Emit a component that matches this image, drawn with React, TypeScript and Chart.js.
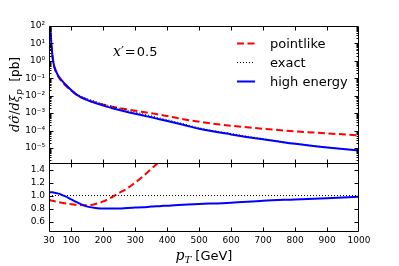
import React, { useEffect, useRef } from 'react';
import { Chart, registerables } from 'chart.js';

Chart.register(...registerables);

// transverse momentum p_T [GeV]
const PT = [30, 32, 34, 36, 38, 40, 42, 45, 50, 55, 60, 70, 80, 100, 120, 150, 175, 200, 225, 250, 275, 300, 325, 350, 375, 400, 450, 500, 600, 700, 800, 900, 1000];

// dσ/dξ_p [pb]
const HIGH_ENERGY = [1e4, 398, 100, 22.4, 7.08, 2.82, 1.32, 0.631, 0.316, 0.1905, 0.1318, 0.0759, 0.0468, 0.0209, 0.01047, 0.00562, 0.0038, 0.00269, 0.001995, 0.001514, 0.001175, 9.33e-4, 7.33e-4, 5.75e-4, 4.52e-4, 3.55e-4, 2.14e-4, 1.259e-4, 6.03e-5, 3.16e-5, 1.738e-5, 1.072e-5, 7.08e-6];
const EXACT = [9.5e3, 379, 95.2, 21.3, 6.74, 2.68, 1.26, 0.604, 0.304, 0.184, 0.128, 0.0751, 0.0472, 0.0222, 0.01177, 0.00678, 0.00469, 0.00336, 0.00249, 0.00189, 0.00145, 1.145e-3, 8.93e-4, 7.02e-4, 5.4e-4, 4.2e-4, 2.486e-4, 1.447e-4, 6.77e-5, 3.44e-5, 1.849e-5, 1.117e-5, 7.22e-6];
const POINTLIKE = [8.9e3, 352, 88.6, 19.7, 6.21, 2.47, 1.16, 0.552, 0.277, 0.1667, 0.1151, 0.0668, 0.0416, 0.0192, 0.01007, 0.00576, 0.00408, 0.00306, 0.00242, 0.00197, 0.00161, 1.374e-3, 1.161e-3, 9.89e-4, 8.2e-4, 6.84e-4, 4.48e-4, 3.18e-4, 1.897e-4, 1.271e-4, 9.06e-5, 6.92e-5, 5.35e-5];

// ratios to exact
const RATIO_POINTLIKE = [0.93, 0.93, 0.93, 0.925, 0.92, 0.92, 0.92, 0.915, 0.91, 0.905, 0.9, 0.89, 0.88, 0.865, 0.855, 0.85, 0.87, 0.91, 0.97, 1.04, 1.11, 1.2, 1.3, 1.41, 1.52, 1.63, 1.8, 2.2, 2.8, 3.7, 4.9, 6.2, 7.4];
const RATIO_HIGH_ENERGY = [1.05, 1.05, 1.05, 1.05, 1.05, 1.05, 1.05, 1.045, 1.04, 1.035, 1.03, 1.01, 0.99, 0.94, 0.89, 0.83, 0.81, 0.8, 0.8, 0.8, 0.81, 0.815, 0.82, 0.83, 0.837, 0.845, 0.86, 0.87, 0.89, 0.92, 0.94, 0.96, 0.98];
const RATIO_EXACT_PT = [30, 1000];
const RATIO_EXACT = [1, 1];

const X_TICKS = [30, 100, 200, 300, 400, 500, 600, 700, 800, 900, 1000];
const LOG_TICKS = [1e2, 1e1, 1e0, 1e-1, 1e-2, 1e-3, 1e-4, 1e-5];
const RATIO_TICKS = [0.6, 0.8, 1.0, 1.2, 1.4];
const SERIES_NAMES = ['pointlike', 'exact', 'high energy'];
const X_PRIME = '0.5';

const SUP: Record<string, string> = { '-': '\u207B', '0': '\u2070', '1': '\u00B9', '2': '\u00B2', '3': '\u00B3', '4': '\u2074', '5': '\u2075', '6': '\u2076', '7': '\u2077', '8': '\u2078', '9': '\u2079' };
const sup = (n: number) => String(n).split('').map((c) => SUP[c] || c).join('');

const SANS = '"DejaVu Sans", sans-serif';
const SERIF = '"DejaVu Serif", serif';

const framePlugin = {
  id: 'framePlugin',
  afterDraw(chart: any) {
    const ctx: CanvasRenderingContext2D = chart.ctx;
    const xs = chart.scales.x;
    const ys = chart.scales.y;
    const rs = chart.scales.y2;
    const L = Math.round(xs.left) + 0.5;
    const R = Math.round(xs.right) - 0.5;
    ctx.save();
    ctx.strokeStyle = '#000';
    ctx.lineWidth = 1;
    const boxes = [
      [Math.round(ys.top) + 0.5, Math.round(ys.bottom) + 0.5],
      [Math.round(rs.top) + 0.5, Math.round(rs.bottom) - 0.5],
    ];
    ctx.beginPath();
    for (const [t, b] of boxes) {
      ctx.rect(L, t, R - L, b - t);
      for (const v of X_TICKS) {
        if (v === 30 || v === 1000) continue;
        const px = Math.round(xs.getPixelForValue(v)) + 0.5;
        ctx.moveTo(px, t); ctx.lineTo(px, t + 4);
        ctx.moveTo(px, b); ctx.lineTo(px, b - 4);
      }
    }
    // log ticks
    for (let e = -6; e <= 2; e++) {
      for (let m = 1; m <= 9; m++) {
        const v = m * Math.pow(10, e);
        if (v < ys.min * 1.0001 || v > ys.max * 0.9999) continue;
        const py = Math.round(ys.getPixelForValue(v)) + 0.5;
        const len = m === 1 ? 4 : 2;
        ctx.moveTo(L, py); ctx.lineTo(L + len, py);
        ctx.moveTo(R, py); ctx.lineTo(R - len, py);
      }
    }
    for (const v of RATIO_TICKS) {
      const py = Math.round(rs.getPixelForValue(v)) + 0.5;
      ctx.moveTo(L, py); ctx.lineTo(L + 4, py);
      ctx.moveTo(R, py); ctx.lineTo(R - 4, py);
    }
    ctx.stroke();

    // legend
    const styles = [
      { color: '#ff0000', width: 2, dash: [7, 3.5] },
      { color: '#000000', width: 1, dash: [1, 2] },
      { color: '#0000ff', width: 2, dash: [] as number[] },
    ];
    const ly = [43.5, 62.5, 81.5];
    SERIES_NAMES.forEach((name, i) => {
      const s = styles[i];
      ctx.beginPath();
      ctx.strokeStyle = s.color;
      ctx.lineWidth = s.width;
      ctx.setLineDash(s.dash);
      ctx.moveTo(237, ly[i]);
      ctx.lineTo(255, ly[i]);
      ctx.stroke();
      ctx.setLineDash([]);
      ctx.fillStyle = '#000';
      ctx.font = `13px ${SANS}`;
      ctx.textBaseline = 'alphabetic';
      ctx.textAlign = 'left';
      ctx.fillText(name, 270, ly[i] + 4.5);
    });

    // annotation x' = 0.5
    ctx.fillStyle = '#000';
    ctx.textBaseline = 'alphabetic';
    let ax = 113;
    const ay = 56;
    ctx.font = `italic 14px ${SERIF}`;
    ctx.fillText('x', ax, ay); ax += ctx.measureText('x').width;
    ctx.font = `13px ${SERIF}`;
    ctx.fillText('\u2032', ax, ay); ax += ctx.measureText('\u2032').width + 1;
    ctx.font = `13px ${SERIF}`;
    ctx.fillText('=', ax, ay); ax += ctx.measureText('=').width + 1;
    ctx.font = `13px ${SANS}`;
    ctx.fillText(X_PRIME, ax, ay);

    const drawParts = (parts: [string, string, number][], cx: number, by: number) => {
      let w = 0;
      for (const [t, f] of parts) { ctx.font = f; w += ctx.measureText(t).width; }
      let px = cx - w / 2;
      for (const [t, f, dy] of parts) {
        ctx.font = f;
        ctx.fillText(t, px, by + dy);
        px += ctx.measureText(t).width;
      }
    };
    // x axis title
    drawParts([
      ['p', `italic 14px ${SERIF}`, 0],
      ['T', `italic 10px ${SERIF}`, 3],
      [' [GeV]', `13px ${SANS}`, 0],
    ], (xs.left + xs.right) / 2, 260);

    // y axis title (rotated)
    ctx.save();
    ctx.translate(19, (ys.top + ys.bottom) / 2);
    ctx.rotate(-Math.PI / 2);
    drawParts([
      ['d\u03C3\u0302', `italic 13px ${SERIF}`, 0],
      ['/', `13px ${SERIF}`, 0],
      ['d\u03BE', `italic 13px ${SERIF}`, 0],
      ['p', `italic 9px ${SERIF}`, 3],
      ['  [pb]', `12px ${SANS}`, 0],
    ], 0, 0);
    ctx.restore();

    ctx.restore();
  },
};

export default function App() {
  const ref = useRef<HTMLCanvasElement | null>(null);
  useEffect(() => {
    if (!ref.current) return;
    document.body.style.margin = '0';
    Chart.defaults.font.family = SANS;
    const mk = (xsArr: number[], ysArr: number[]) => xsArr.map((x, i) => ({ x, y: ysArr[i] }));
    const tickFont = { size: 9, family: SANS };
    const chart = new Chart(ref.current, {
      type: 'line',
      data: {
        datasets: [
          { label: 'high energy', data: mk(PT, HIGH_ENERGY), yAxisID: 'y', borderColor: '#0000ff', borderWidth: 2, pointRadius: 0, clip: 0, order: 1 },
          { label: 'exact', data: mk(PT, EXACT), yAxisID: 'y', borderColor: '#000000', borderWidth: 1, borderDash: [1, 2], pointRadius: 0, clip: 0, order: 2 },
          { label: 'pointlike', data: mk(PT, POINTLIKE), yAxisID: 'y', borderColor: '#ff0000', borderWidth: 2, borderDash: [7, 3.5], pointRadius: 0, clip: 0, order: 3 },
          { label: 'high energy ratio', data: mk(PT, RATIO_HIGH_ENERGY), yAxisID: 'y2', borderColor: '#0000ff', borderWidth: 2, pointRadius: 0, clip: 0, order: 1 },
          { label: 'exact ratio', data: mk(RATIO_EXACT_PT, RATIO_EXACT), yAxisID: 'y2', borderColor: '#000000', borderWidth: 1, borderDash: [1, 2], pointRadius: 0, clip: 0, order: 2 },
          { label: 'pointlike ratio', data: mk(PT, RATIO_POINTLIKE), yAxisID: 'y2', borderColor: '#ff0000', borderWidth: 2, borderDash: [7, 3.5], pointRadius: 0, clip: 0, order: 3 },
        ] as any,
      },
      options: {
        responsive: false,
        animation: false,
        devicePixelRatio: 1,
        layout: { padding: { left: 0, right: 40, top: 26, bottom: 14 } },
        plugins: { legend: { display: false }, tooltip: { enabled: false } },
        elements: { line: { cubicInterpolationMode: 'monotone' } },
        scales: {
          x: {
            type: 'linear', min: 30, max: 1000,
            grid: { display: false, drawTicks: false }, border: { display: false },
            afterBuildTicks: (s: any) => { s.ticks = X_TICKS.map((v) => ({ value: v })); },
            afterFit: (s: any) => { s.height = 20; },
            ticks: { autoSkip: false, maxRotation: 0, color: '#000', font: tickFont, padding: 3, callback: (v: any) => String(v) },
          },
          y: {
            type: 'logarithmic', position: 'left', stack: 'v', stackWeight: 137, weight: 2,
            min: Math.pow(10, -5.86), max: 100,
            grid: { display: false, drawTicks: false }, border: { display: false },
            afterBuildTicks: (s: any) => { s.ticks = LOG_TICKS.map((v) => ({ value: v })); },
            afterFit: (s: any) => { s.width = 49; },
            ticks: { autoSkip: false, color: '#000', font: tickFont, padding: 4, callback: (v: any) => '10' + sup(Math.round(Math.log10(v))) },
          },
          y2: {
            type: 'linear', position: 'left', stack: 'v', stackWeight: 69, weight: 1,
            min: 0.44, max: 1.5,
            grid: { display: false, drawTicks: false }, border: { display: false },
            afterBuildTicks: (s: any) => { s.ticks = RATIO_TICKS.map((v) => ({ value: v })); },
            afterFit: (s: any) => { s.width = 49; },
            ticks: { autoSkip: false, color: '#000', font: tickFont, padding: 4, callback: (v: any) => Number(v).toFixed(1) },
          },
        },
      } as any,
      plugins: [framePlugin],
    });
    return () => chart.destroy();
  }, []);
  return (
    <div style={{ position: 'absolute', left: 0, top: 0, width: 399, height: 266, background: '#fff' }}>
      <canvas ref={ref} width={399} height={266} style={{ display: 'block' }} />
    </div>
  );
}
